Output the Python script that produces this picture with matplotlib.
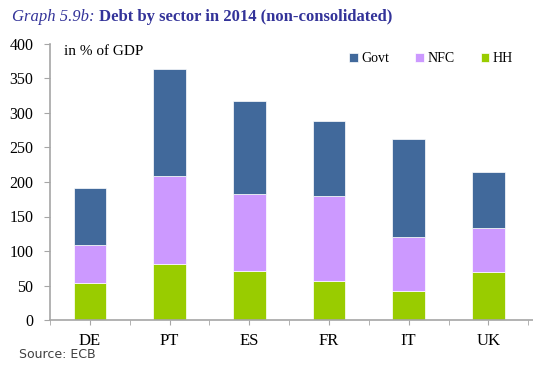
import matplotlib.pyplot as plt
import numpy as np

countries = ["DE", "PT", "ES", "FR", "IT", "UK"]
hh = [54, 81, 71, 56, 42, 70]
nfc = [55, 127, 112, 124, 79, 63]
govt = [82, 156, 135, 109, 141, 82]

c_govt = "#41699B"
c_nfc = "#CC99FF"
c_hh = "#99CC00"
axis_grey = "#A6A6A6"
serif = "Liberation Serif"

fig = plt.figure(figsize=(5.33, 3.72), dpi=100, facecolor="white")
ax = fig.add_axes([50 / 533, 1 - 320 / 372, 483 / 533, 276 / 372])

x = np.arange(len(countries))
w = 0.41
hh_a = np.array(hh)
nfc_a = np.array(nfc)
ax.bar(x, hh, w, color=c_hh, edgecolor="white", linewidth=0.5, label="HH")
ax.bar(x, nfc, w, bottom=hh_a, color=c_nfc, edgecolor="white", linewidth=0.5, label="NFC")
ax.bar(x, govt, w, bottom=hh_a + nfc_a, color=c_govt, edgecolor="white", linewidth=0.5, label="Govt")

ax.set_ylim(0, 400)
ax.set_xlim(-0.5, 5.56)
ax.set_yticks(range(0, 401, 50))
ax.set_xticks(x)
ax.set_xticks(np.arange(-0.5, 6, 1), minor=True)
ax.set_xticklabels(countries, fontfamily=serif, fontsize=12)
for lab in ax.get_yticklabels():
    lab.set_fontfamily(serif)
    lab.set_fontsize(11.5)

for s in ["top", "right"]:
    ax.spines[s].set_visible(False)
for s in ["left", "bottom"]:
    ax.spines[s].set_color(axis_grey)
    ax.spines[s].set_linewidth(1.2)
ax.tick_params(axis="y", direction="out", length=4, color=axis_grey, pad=8)
ax.tick_params(axis="x", which="both", direction="out", length=3.5, color=axis_grey, pad=6)

ax.text(0.03, 0.995, "in % of GDP", transform=ax.transAxes, fontfamily=serif,
        fontsize=11, va="top", ha="left")

# legend: Govt, NFC, HH order
handles, labels = ax.get_legend_handles_labels()
order = [2, 1, 0]
leg = ax.legend([handles[i] for i in order], [labels[i] for i in order],
                loc="upper left", bbox_to_anchor=(0.608, 0.99), ncol=3, frameon=False,
                prop={"family": serif, "size": 10}, handlelength=0.6, handleheight=0.6,
                handletextpad=0.25, columnspacing=1.9, borderaxespad=0)

# title
fig.text(12 / 533, 1 - 17 / 372, "Graph 5.9b:", fontfamily=serif, fontstyle="italic",
         fontsize=12, color="#333399", va="center", ha="left")
fig.text(99 / 533, 1 - 17 / 372, "Debt by sector in 2014 (non-consolidated)", fontfamily=serif,
         fontweight="bold", fontsize=12, color="#333399", va="center", ha="left")

fig.text(19 / 533, 1 - 354 / 372, "Source: ECB", fontfamily="DejaVu Sans", fontsize=9,
         color="#404040", va="center", ha="left")

fig.savefig("out.png", dpi=100, facecolor="white")
